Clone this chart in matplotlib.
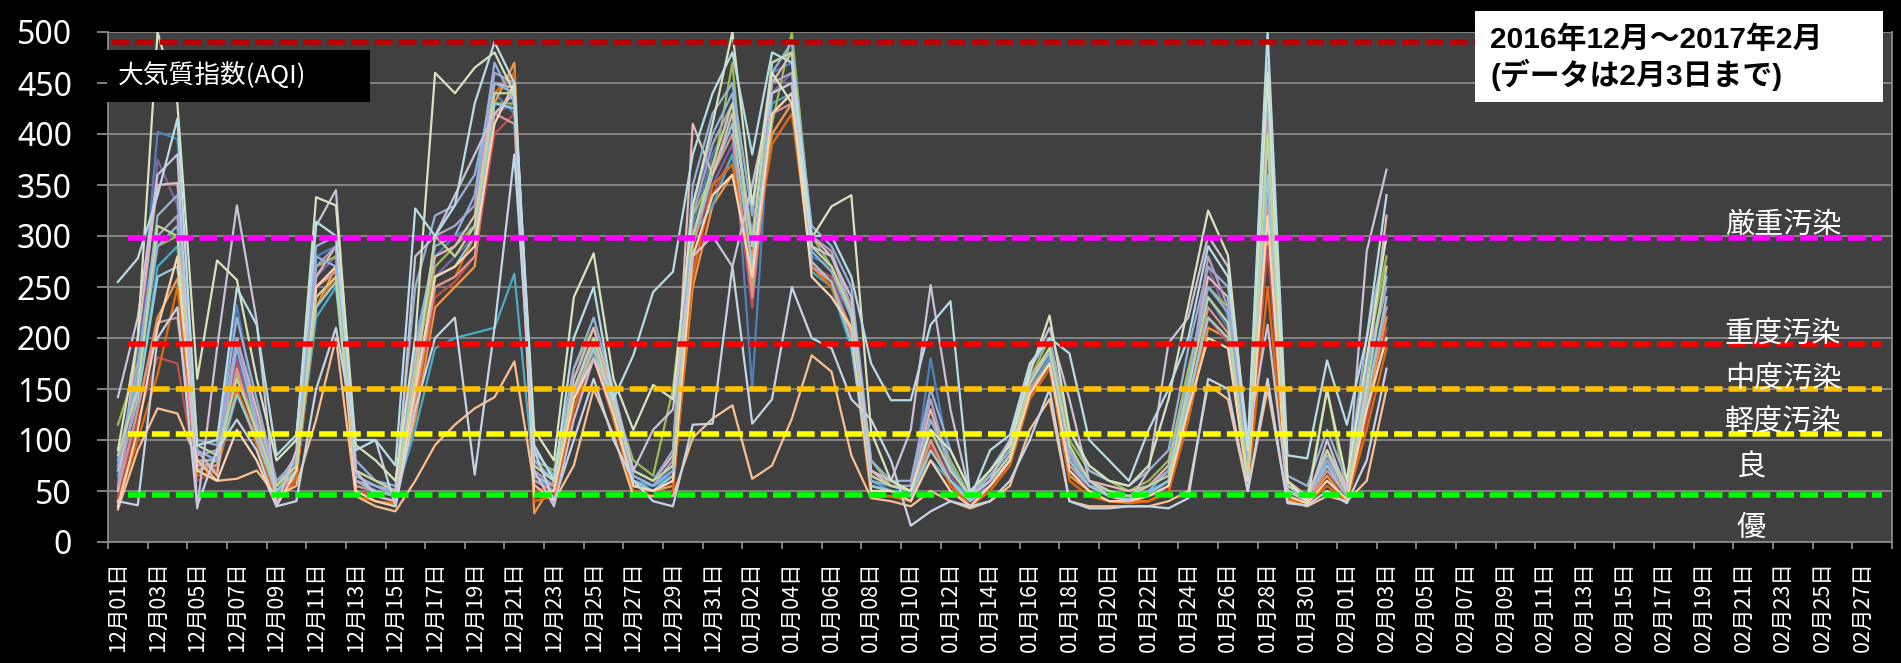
import matplotlib
matplotlib.use("Agg")
import matplotlib.pyplot as plt
from matplotlib.patches import Rectangle
import numpy as np
from datetime import date, timedelta

plt.rcParams['font.family'] = ['Noto Sans CJK JP', 'DejaVu Sans']

# 90 daily categories, 2016-12-01 .. 2017-02-28 (data only until 02-03)
start = date(2016, 12, 1)
days = [start + timedelta(days=i) for i in range(90)]
day_labels = [f"{d.month:02d}月{d.day:02d}日" for d in days]

# AQI per monitoring station (65 days each)
s01 = [90, 200, 500, 430, 160, 276, 257, 160, 80, 100,
       338, 330, 95, 80, 60, 200, 460, 440, 465, 480,
       440, 110, 80, 240, 283, 160, 110, 154, 140, 330,
       410, 500, 330, 460, 430, 298, 329, 340, 108, 60,
       50, 110, 90, 50, 70, 95, 165, 222, 110, 75,
       60, 55, 75, 140, 232, 325, 281, 90, 460, 60,
       40, 149, 60, 180, 300]
s02 = [255, 278, 340, 415, 95, 100, 249, 213, 85, 105,
       314, 300, 90, 100, 75, 327, 300, 330, 430, 490,
       450, 95, 60, 200, 250, 140, 183, 245, 265, 380,
       440, 480, 380, 480, 470, 300, 300, 260, 175, 139,
       139, 213, 236, 43, 90, 105, 175, 200, 185, 100,
       80, 60, 110, 150, 200, 290, 260, 95, 500, 85,
       82, 178, 115, 200, 340]
s03 = [142, 220, 360, 380, 33, 190, 330, 217, 35, 90,
       310, 345, 70, 45, 40, 280, 300, 340, 380, 420,
       440, 70, 35, 120, 180, 145, 70, 110, 130, 280,
       300, 270, 350, 440, 450, 290, 280, 240, 70, 60,
       110, 252, 130, 45, 60, 100, 170, 210, 140, 60,
       45, 40, 70, 195, 220, 300, 270, 100, 213, 50,
       40, 100, 50, 285, 365]
s04 = [70, 180, 402, 395, 85, 90, 232, 120, 55, 80,
       280, 290, 60, 50, 45, 200, 280, 300, 310, 440,
       420, 60, 55, 160, 200, 130, 60, 55, 75, 310,
       380, 420, 150, 460, 470, 280, 270, 220, 50, 50,
       45, 180, 75, 40, 60, 80, 150, 180, 70, 55,
       45, 40, 45, 60, 150, 240, 210, 60, 380, 50,
       40, 75, 45, 150, 260]
s05 = [60, 160, 375, 330, 75, 85, 180, 110, 50, 70,
       260, 280, 55, 50, 45, 140, 260, 280, 300, 420,
       430, 65, 50, 140, 190, 120, 55, 50, 70, 290,
       350, 390, 230, 440, 460, 290, 270, 200, 55, 50,
       45, 110, 65, 40, 60, 85, 150, 175, 75, 55,
       50, 45, 45, 55, 140, 270, 220, 65, 340, 55,
       45, 70, 50, 140, 230]
s06 = [40, 130, 220, 258, 70, 75, 150, 100, 40, 65,
       230, 270, 50, 45, 40, 120, 230, 250, 270, 430,
       470, 28, 60, 140, 190, 125, 55, 50, 55, 250,
       330, 360, 280, 400, 430, 270, 250, 210, 45, 45,
       40, 90, 60, 35, 55, 80, 145, 175, 65, 50,
       40, 40, 40, 50, 120, 210, 200, 55, 300, 45,
       40, 65, 40, 130, 220]
s07 = [45, 120, 181, 175, 60, 70, 175, 95, 45, 60,
       240, 260, 50, 45, 40, 130, 240, 255, 280, 400,
       420, 50, 55, 130, 180, 120, 50, 45, 50, 270,
       340, 380, 230, 420, 440, 270, 260, 200, 45, 45,
       40, 95, 55, 35, 55, 75, 140, 170, 80, 55,
       45, 40, 45, 50, 130, 220, 195, 55, 290, 45,
       40, 60, 40, 120, 210]
s08 = [65, 140, 270, 290, 80, 70, 145, 100, 50, 65,
       220, 250, 60, 50, 45, 110, 190, 200, 205, 210,
       263, 60, 55, 150, 185, 130, 60, 55, 65, 300,
       330, 380, 250, 430, 440, 265, 250, 190, 60, 50,
       50, 80, 60, 45, 60, 85, 150, 180, 85, 55,
       50, 45, 50, 60, 140, 220, 200, 60, 340, 50,
       45, 80, 50, 130, 200]
s09 = [115, 175, 290, 300, 70, 80, 165, 115, 50, 75,
       270, 280, 65, 55, 50, 170, 270, 290, 310, 430,
       430, 80, 70, 170, 210, 140, 80, 65, 150, 320,
       360, 470, 250, 410, 500, 300, 270, 230, 80, 55,
       50, 120, 80, 45, 70, 95, 160, 200, 100, 70,
       60, 50, 60, 80, 170, 250, 230, 75, 460, 55,
       45, 150, 45, 180, 280]
s10 = [32, 90, 131, 126, 80, 60, 62, 70, 45, 55,
       120, 200, 45, 35, 30, 60, 95, 115, 131, 142,
       177, 56, 40, 75, 150, 105, 45, 45, 45, 102,
       121, 134, 62, 75, 121, 183, 167, 85, 43, 40,
       35, 50, 40, 33, 40, 55, 110, 140, 40, 35,
       35, 35, 35, 40, 50, 154, 140, 50, 150, 40,
       35, 45, 40, 60, 150]
s11 = [50, 200, 350, 352, 90, 65, 200, 130, 55, 85,
       260, 290, 70, 60, 50, 180, 280, 290, 320, 450,
       445, 75, 60, 160, 210, 145, 70, 60, 85, 410,
       360, 420, 300, 450, 480, 300, 280, 230, 70, 55,
       55, 130, 70, 45, 65, 90, 160, 190, 90, 60,
       55, 50, 55, 75, 160, 260, 240, 70, 400, 60,
       45, 90, 55, 160, 320]
s12 = [80, 170, 320, 340, 100, 95, 220, 140, 60, 80,
       290, 300, 80, 60, 55, 250, 320, 330, 360, 450,
       440, 90, 65, 170, 220, 150, 70, 60, 90, 350,
       420, 450, 320, 470, 480, 310, 290, 250, 80, 60,
       60, 150, 90, 50, 70, 100, 170, 200, 110, 70,
       60, 55, 70, 90, 190, 270, 250, 80, 440, 65,
       55, 110, 60, 200, 300]
s13 = [40, 36, 200, 230, 35, 90, 120, 90, 35, 40,
       150, 210, 100, 100, 35, 130, 200, 220, 66, 210,
       380, 90, 40, 100, 160, 100, 60, 40, 35, 115,
       116, 270, 116, 140, 250, 200, 190, 140, 120, 80,
       16, 30, 40, 35, 40, 60, 100, 150, 40, 33,
       33, 35, 35, 33, 43, 160, 150, 50, 160, 38,
       36, 50, 38, 80, 170]
s14 = [38, 100, 164, 250, 65, 70, 150, 95, 40, 60,
       230, 260, 45, 40, 38, 130, 250, 260, 300, 440,
       460, 40, 45, 130, 190, 120, 50, 45, 50, 260,
       350, 370, 270, 390, 420, 270, 250, 200, 45, 45,
       40, 100, 55, 35, 50, 75, 140, 170, 60, 45,
       40, 38, 40, 48, 120, 220, 200, 50, 250, 42,
       38, 55, 40, 110, 190]
s15 = [55, 150, 300, 320, 85, 90, 200, 120, 55, 75,
       270, 290, 60, 55, 45, 160, 300, 310, 330, 460,
       450, 70, 55, 150, 200, 135, 65, 55, 80, 320,
       390, 430, 300, 450, 460, 300, 285, 230, 65, 55,
       55, 140, 70, 45, 65, 90, 155, 185, 85, 60,
       50, 45, 55, 70, 150, 280, 230, 90, 420, 55,
       45, 80, 45, 170, 250]
s16 = [35, 110, 210, 280, 70, 60, 110, 80, 35, 70,
       250, 270, 50, 40, 35, 150, 260, 270, 290, 410,
       450, 45, 50, 140, 180, 125, 55, 50, 60, 280,
       340, 360, 260, 420, 440, 260, 240, 210, 50, 50,
       40, 80, 50, 35, 55, 80, 145, 175, 70, 50,
       40, 40, 45, 55, 130, 200, 190, 60, 320, 45,
       38, 60, 42, 130, 200]
s17 = [75, 160, 290, 310, 90, 80, 190, 115, 55, 80,
       280, 270, 65, 55, 50, 190, 290, 300, 340, 470,
       430, 80, 60, 150, 200, 135, 65, 55, 70, 330,
       400, 440, 290, 460, 490, 285, 265, 220, 60, 55,
       50, 120, 75, 45, 65, 90, 160, 185, 90, 60,
       50, 45, 50, 70, 160, 250, 225, 70, 470, 55,
       45, 85, 50, 170, 260]
s18 = [50, 130, 215, 220, 75, 75, 170, 105, 45, 70,
       250, 265, 55, 50, 45, 140, 250, 260, 280, 420,
       410, 60, 50, 145, 195, 130, 60, 50, 60, 290,
       360, 400, 240, 420, 430, 270, 255, 205, 55, 50,
       45, 100, 60, 40, 55, 80, 150, 175, 75, 55,
       45, 42, 45, 55, 135, 230, 205, 60, 330, 50,
       42, 70, 45, 140, 230]
s19 = [85, 150, 310, 300, 95, 85, 160, 110, 55, 75,
       240, 260, 70, 60, 50, 160, 300, 280, 310, 440,
       440, 75, 60, 150, 200, 135, 70, 60, 75, 300,
       370, 430, 290, 470, 480, 290, 270, 225, 65, 55,
       50, 110, 70, 45, 60, 85, 155, 190, 95, 60,
       50, 45, 55, 65, 150, 240, 215, 65, 400, 55,
       45, 90, 48, 150, 270]
s20 = [70, 140, 260, 270, 80, 80, 145, 100, 50, 70,
       230, 255, 60, 50, 45, 150, 260, 270, 300, 430,
       425, 65, 55, 140, 190, 130, 60, 50, 65, 300,
       360, 410, 270, 440, 450, 275, 255, 195, 55, 50,
       45, 90, 60, 40, 55, 80, 145, 175, 80, 55,
       45, 42, 48, 60, 140, 220, 200, 60, 360, 50,
       45, 75, 45, 140, 240]

# drawing order: pale outliers last (on top)
stations = [s04, s05, s06, s07, s08, s09, s14, s18, s20, s10,
            s11, s12, s15, s16, s17, s19, s13, s03, s01, s02]
station_colors = ['#4f81bd', '#8064a2', '#f79646', '#c0504d', '#4bacc6',
                  '#9bbb59', '#e46c0a', '#d99694', '#93cddd', '#fac090',
                  '#e6b9b8', '#95b3d7', '#b3a2c7', '#fcd5b5', '#8eb4e3',
                  '#c3d69b', '#c5d4e8', '#ccc1da', '#d7e4bd', '#b7dee8']

# AQI level reference lines and their labels
level_values = [490, 298, 194, 150, 106, 46]
level_colors = ['#c00000', '#ff00ff', '#ff0000', '#ffc000', '#ffff00', '#00ff00']
level_names = ['厳重汚染', '重度汚染', '中度汚染', '軽度汚染', '良', '優']
level_label_y = [311, 203, 159, 117, 73, 14]
level_label_x = [84, 84, 84, 84, 82.4, 82.4]

W, H = 1901, 663
fig = plt.figure(figsize=(W / 100, H / 100), dpi=100, facecolor='black')
ax = fig.add_axes([108 / W, 1 - 542 / H, (1892 - 108) / W, (542 - 32) / H])
ax.set_facecolor('#404040')

for vals, c in zip(stations, station_colors):
    ax.plot(np.arange(len(vals)), vals, color=c, lw=1.6, zorder=2)

for v, c in zip(level_values, level_colors):
    x0 = -0.3 if v == level_values[0] else 0.5
    ax.plot([x0, 89], [v, v], color=c, lw=4, linestyle=(0, (3.2, 1.1)),
            dash_capstyle='butt', zorder=3)

for name, x, y in zip(level_names, level_label_x, level_label_y):
    ax.text(x, y, name, color='white', fontsize=21, ha='center', va='center', zorder=4)

ax.set_ylim(0, 500)
ax.set_yticks(range(0, 501, 50))
ax.yaxis.grid(True, color='#8a8a8a', lw=1.3)
ax.set_axisbelow(True)
ax.tick_params(axis='y', colors='#8a8a8a', labelcolor='white', length=8, width=1.3,
               labelsize=23, pad=18)
for lab in ax.get_yticklabels():
    lab.set_fontfamily('Noto Sans')

ax.set_xlim(-0.5, 89.5)
ax.set_xticks(np.arange(-0.5, 90, 2))
ax.set_xticklabels([])
ax.set_xticks(np.arange(0, 90, 2), minor=True)
ax.set_xticklabels(day_labels[::2], minor=True, rotation=90, va='top', ha='center')
ax.tick_params(axis='x', which='major', direction='out', colors='#8a8a8a', length=5, width=1.3)
ax.tick_params(axis='x', which='minor', length=0, labelcolor='white', labelsize=15.5, pad=14)

for side in ['left', 'bottom', 'right']:
    ax.spines[side].set_color('#8a8a8a')
    ax.spines[side].set_linewidth(1.3)
ax.spines['top'].set_visible(False)

# title box, top left
fig.add_artist(Rectangle((107 / W, 1 - 102 / H), 263 / W, 52 / H, transform=fig.transFigure,
                         facecolor='black', edgecolor='none', zorder=5))
fig.text(118 / W, 1 - 76 / H, '大気質指数(AQI)', color='white', fontsize=18.5,
         ha='left', va='center', zorder=6)

# period box, top right
fig.add_artist(Rectangle((1475 / W, 1 - 102 / H), 408 / W, 91 / H, transform=fig.transFigure,
                         facecolor='white', edgecolor='none', zorder=5))
box_font = ['Liberation Sans', 'Noto Sans CJK JP']
fig.text(1490 / W, 1 - 40 / H, '2016年12月～2017年2月', color='black', fontsize=21.5,
         fontweight='bold', family=box_font, ha='left', va='center', zorder=6)
fig.text(1490 / W, 1 - 75 / H, '(データは2月3日まで)', color='black', fontsize=21.5,
         fontweight='bold', family=box_font, ha='left', va='center', zorder=6)

fig.savefig('out.png', dpi=100, facecolor='black')
